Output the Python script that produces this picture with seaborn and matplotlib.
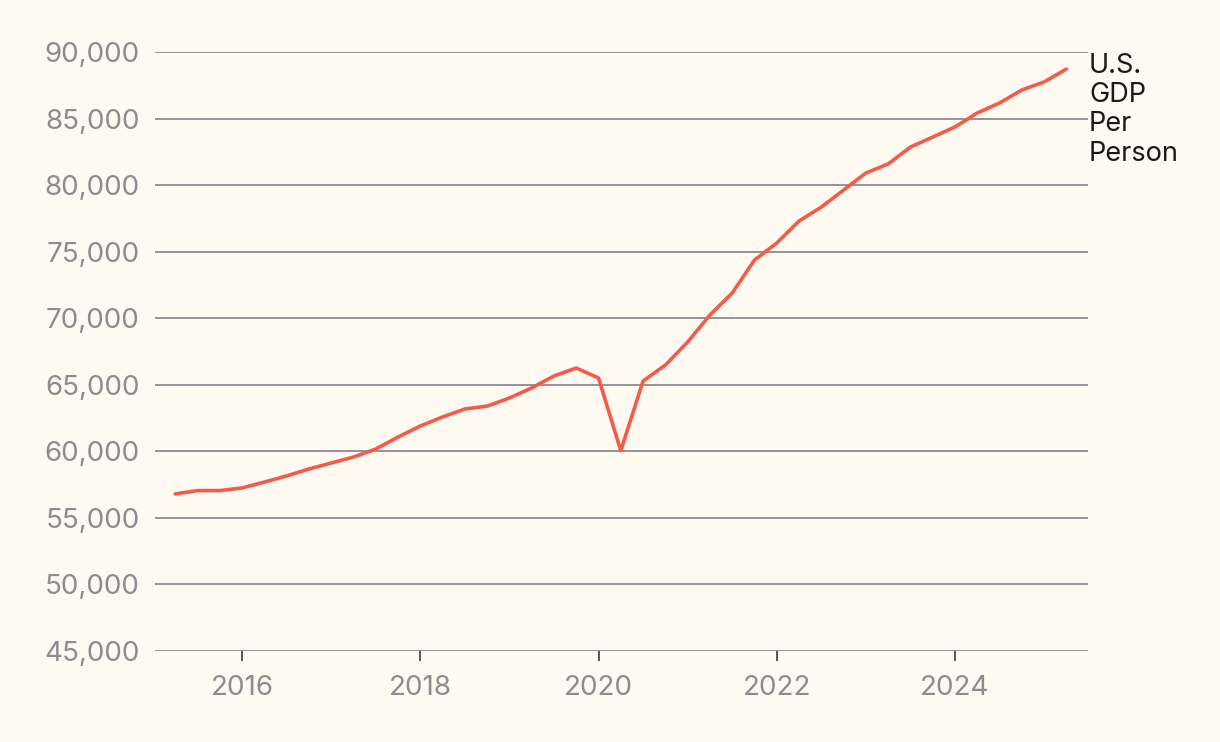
import pandas as pd
import matplotlib.pyplot as plt
import seaborn as sns
from matplotlib.ticker import FuncFormatter


# Quarterly U.S. GDP per person
quarters = [2015.25, 2015.5, 2015.75,
            2016.0, 2016.25, 2016.5, 2016.75,
            2017.0, 2017.25, 2017.5, 2017.75,
            2018.0, 2018.25, 2018.5, 2018.75,
            2019.0, 2019.25, 2019.5, 2019.75,
            2020.0, 2020.25, 2020.5, 2020.75,
            2021.0, 2021.25, 2021.5, 2021.75,
            2022.0, 2022.25, 2022.5, 2022.75,
            2023.0, 2023.25, 2023.5, 2023.75,
            2024.0, 2024.25, 2024.5, 2024.75,
            2025.0, 2025.25]
gdp_per_person = [56800, 57050, 57050,
                  57250, 57690, 58150, 58670,
                  59120, 59570, 60170, 61070,
                  61900, 62580, 63180, 63400,
                  64000, 64760, 65660, 66260,
                  65510, 60050, 65280, 66480,
                  68210, 70240, 71890, 74370,
                  75650, 77300, 78350, 79630,
                  80910, 81590, 82860, 83610,
                  84370, 85420, 86170, 87150,
                  87750, 88720]

y_ticks = list(range(45000, 90001, 5000))
x_ticks = [2016, 2018, 2020, 2022, 2024]
series_label = "U.S.\nGDP\nPer\nPerson"

df = pd.DataFrame({"quarter": quarters, "gdp": gdp_per_person})

bg = "#fefaf1"
grey = "#8e8b91"
red = "#f45b48"

sns.set_style("white")
plt.rcParams['font.family'] = ['Inter', 'DejaVu Sans']

fig = plt.figure(figsize=(12.2, 7.42), dpi=100, facecolor=bg)
ax = fig.add_axes([155 / 1220, 1 - 651 / 742, (1088 - 155) / 1220, (651 - 52) / 742])
ax.set_facecolor(bg)

# gridlines first so the line sits on top
for v in y_ticks:
    ax.axhline(v, color=grey, lw=1.3, zorder=1)

sns.lineplot(data=df, x="quarter", y="gdp", color=red, lw=2.6, ax=ax, zorder=3)

ax.set_xlim(2015.024, 2025.492)
ax.set_ylim(45000, 90000)
ax.set_yticks(y_ticks)
ax.set_xticks(x_ticks)
ax.yaxis.set_major_formatter(FuncFormatter(lambda v, p: f"{int(v):,}"))
ax.set_xticklabels([str(t) for t in x_ticks])

ax.tick_params(axis="y", left=False, length=0, pad=11, labelsize=20, labelcolor=grey)
ax.tick_params(axis="x", bottom=True, length=7, width=1.3, color="#4a4a4a",
               direction="out", pad=10, labelsize=20, labelcolor=grey)

for s in ax.spines.values():
    s.set_visible(False)
ax.set_xlabel("")
ax.set_ylabel("")

fig.text(1089 / 1220, 1 - 53 / 742, series_label, ha="left", va="top",
         fontsize=19.5, color="#1a1a1a", linespacing=1.16)

plt.savefig("out.png", dpi=100, facecolor=bg)
